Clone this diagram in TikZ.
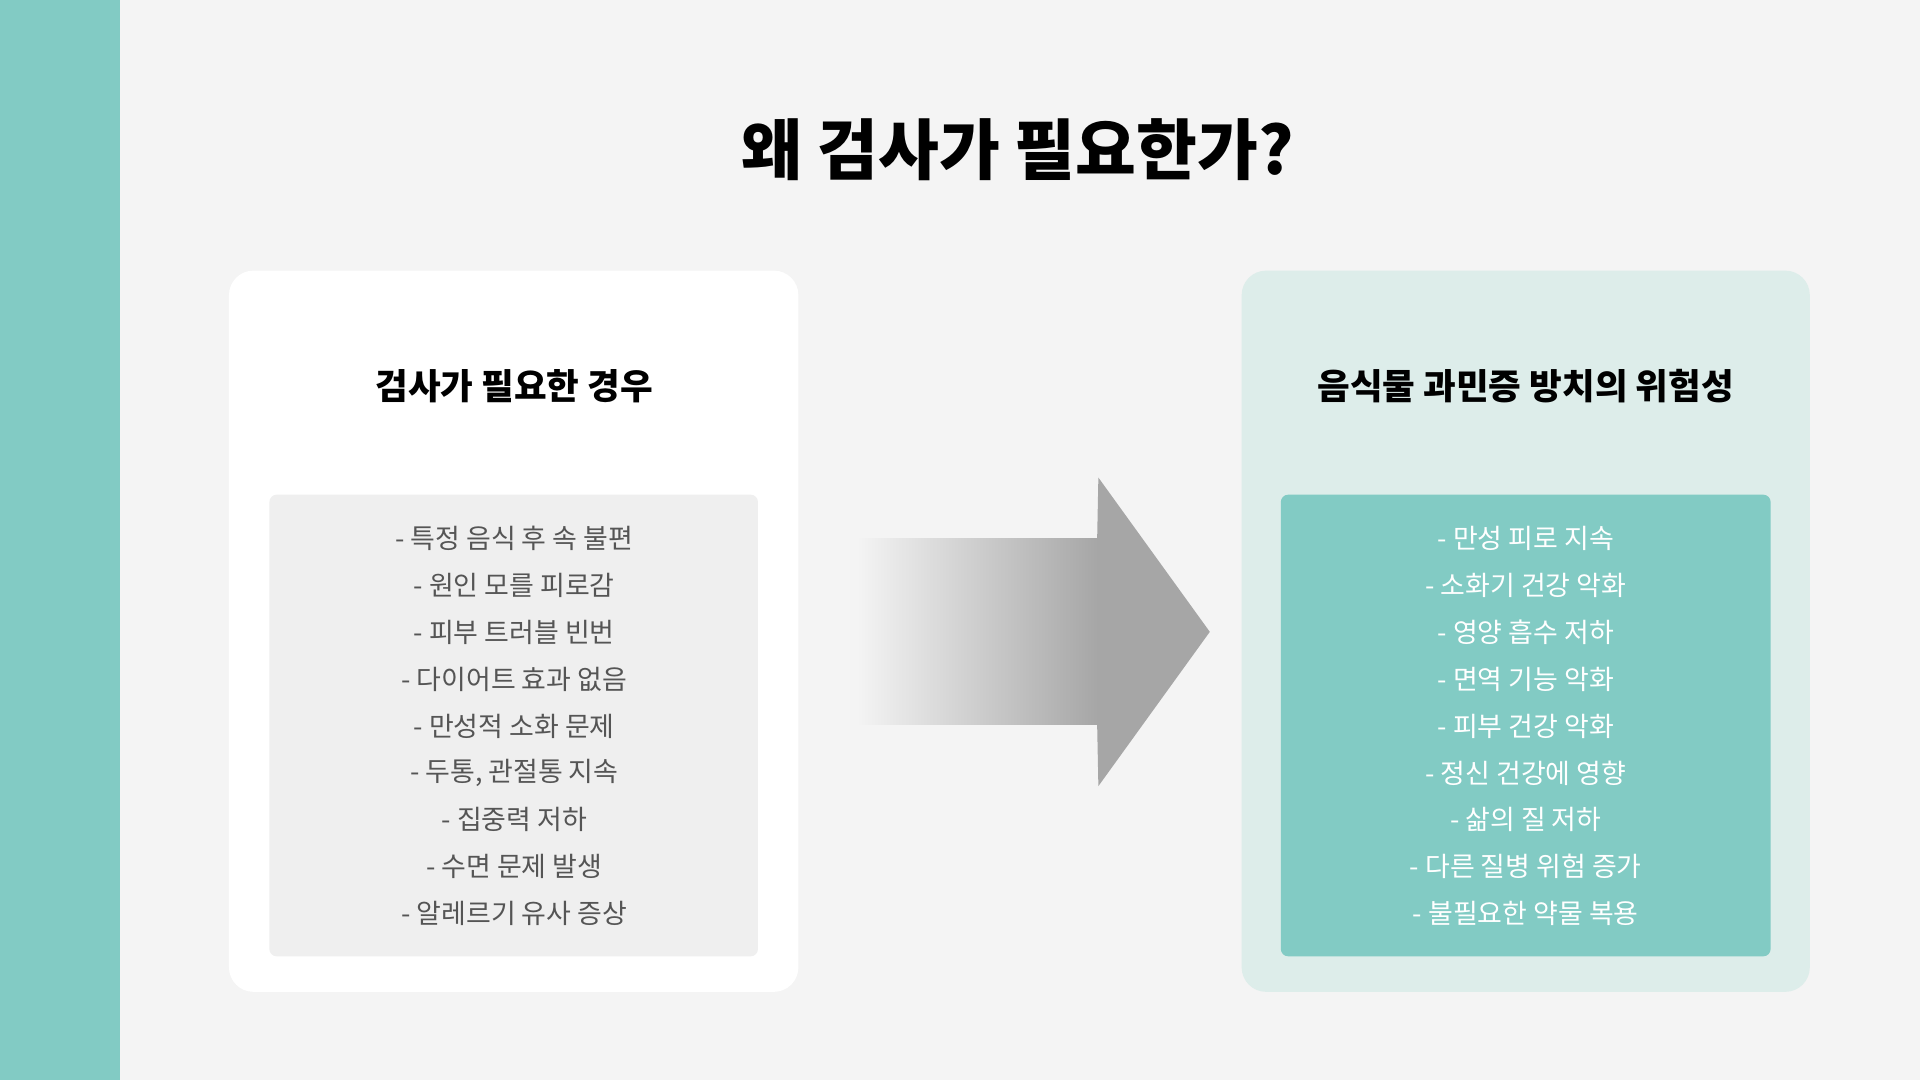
\documentclass[tikz,border=0pt]{standalone}
\usepackage{fontspec}
\setmainfont{Noto Sans CJK KR}
\usetikzlibrary{positioning}
\definecolor{bg}{HTML}{F4F4F4}
\definecolor{teal}{HTML}{82CBC4}
\definecolor{paleteal}{HTML}{DDEDEA}
\definecolor{inner}{HTML}{EFEFEF}
\definecolor{txt}{HTML}{555555}
\definecolor{arr}{HTML}{A6A6A6}
\tikzset{
  item/.style={font=\fontsize{11}{13}\selectfont, anchor=center, inner sep=0pt},
  heading/.style={font=\bfseries\fontsize{14.5}{17}\selectfont, anchor=center},
}
\begin{document}
\begin{tikzpicture}[x=0.5pt,y=-0.5pt]
\useasboundingbox (0,0) rectangle (1568,882);
\fill[bg] (0,0) rectangle (1568,882);
\fill[teal] (0,0) rectangle (98,882);
\node[font=\bfseries\fontsize{27}{32}\selectfont] (title) at (831,122) {왜 검사가 필요한가?};
% left card
\fill[white, rounded corners=10pt] (187,221) rectangle (652,810);
\node[heading] (lh) at (420,315) {검사가 필요한 경우};
\fill[inner, rounded corners=3pt] (220,404) rectangle (619,781);
% right card
\fill[paleteal, rounded corners=10pt] (1014,221) rectangle (1478,810);
\node[heading] (rh) at (1246,315) {음식물 과민증 방치의 위험성};
\fill[teal, rounded corners=3pt] (1046,404) rectangle (1446,781);
% arrow
\shade[left color=bg, right color=arr] (700,440) rectangle (897,592);
\fill[arr] (896,440) -- (897,390) -- (988,516) -- (897,642) -- (896,592) -- cycle;
% items
\foreach \t [count=\i from 0] in {- 특정 음식 후 속 불편,- 원인 모를 피로감,- 피부 트러블 빈번,- 다이어트 효과 없음,- 만성적 소화 문제,{- 두통, 관절통 지속},- 집중력 저하,- 수면 문제 발생,- 알레르기 유사 증상}
  \node[item, text=txt] (l\i) at (420,440+38.25*\i) {\t};
\foreach \t [count=\i from 0] in {- 만성 피로 지속,- 소화기 건강 악화,- 영양 흡수 저하,- 면역 기능 악화,- 피부 건강 악화,- 정신 건강에 영향,- 삶의 질 저하,- 다른 질병 위험 증가,- 불필요한 약물 복용}
  \node[item, text=white] (r\i) at (1246,440+38.25*\i) {\t};
\end{tikzpicture}
\end{document}
